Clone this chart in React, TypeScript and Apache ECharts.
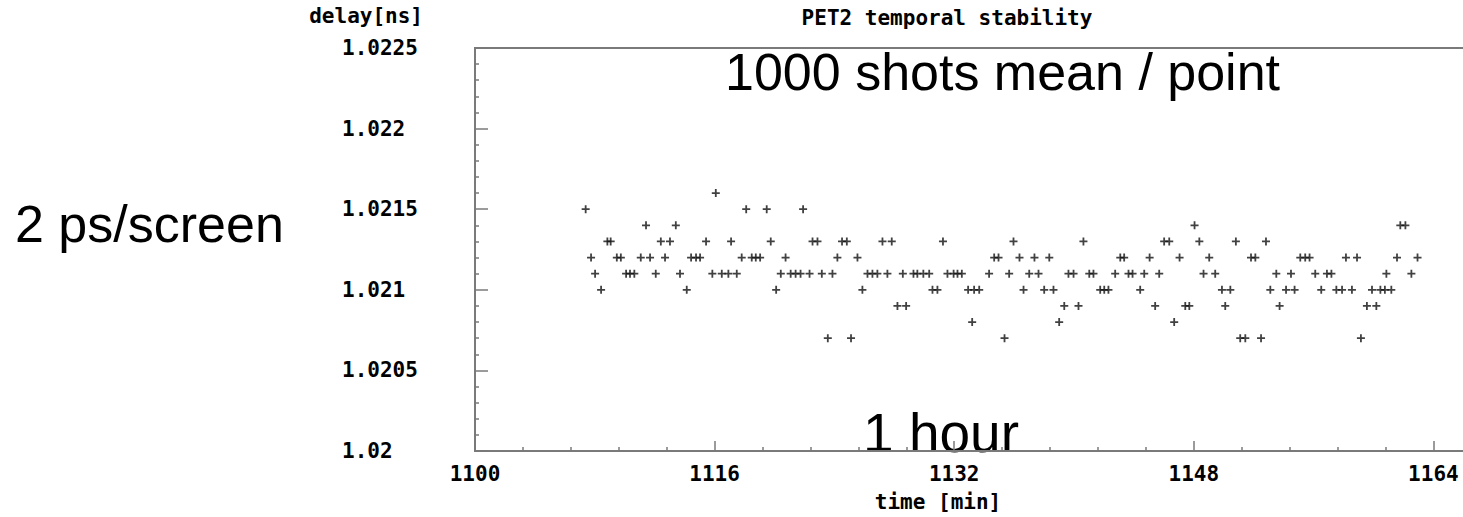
import React, { useEffect, useRef } from "react";
import * as echarts from "echarts";

// time of each point [min]
const timeMin: number[] = [
  1107.39, 1107.75, 1108.02, 1108.42, 1108.84, 1109.06, 1109.47, 1109.74, 1110.09, 1110.35,
  1110.64, 1111.07, 1111.42, 1111.69, 1112.07, 1112.41, 1112.69, 1113.02, 1113.41, 1113.69,
  1114.14, 1114.43, 1114.76, 1115.03, 1115.43, 1115.85, 1116.08, 1116.48, 1116.92, 1117.1,
  1117.48, 1117.81, 1118.11, 1118.48, 1118.75, 1119.04, 1119.48, 1119.75, 1120.11, 1120.42,
  1120.74, 1121.08, 1121.41, 1121.74, 1121.91, 1122.34, 1122.54, 1122.87, 1123.16, 1123.56,
  1123.87, 1124.2, 1124.51, 1124.83, 1125.11, 1125.54, 1125.87, 1126.21, 1126.54, 1126.87,
  1127.21, 1127.54, 1127.83, 1128.21, 1128.57, 1128.79, 1129.28, 1129.54, 1129.94, 1130.33,
  1130.55, 1130.88, 1131.25, 1131.55, 1131.96, 1132.22, 1132.51, 1132.93, 1133.2, 1133.33,
  1133.67, 1134.33, 1134.67, 1134.96, 1135.36, 1135.67, 1135.96, 1136.36, 1136.63, 1137.01,
  1137.36, 1137.63, 1138.01, 1138.35, 1138.63, 1139.01, 1139.35, 1139.63, 1139.97, 1140.3,
  1140.63, 1141.02, 1141.3, 1141.75, 1142.02, 1142.3, 1142.75, 1143.09, 1143.35, 1143.64,
  1143.91, 1144.42, 1144.69, 1145.05, 1145.42, 1145.69, 1146.02, 1146.36, 1146.69, 1147.05,
  1147.43, 1147.7, 1148.05, 1148.37, 1148.65, 1149.03, 1149.43, 1149.88, 1150.1, 1150.44,
  1150.81, 1151.1, 1151.44, 1151.82, 1152.11, 1152.49, 1152.82, 1153.11, 1153.51, 1153.73,
  1154.16, 1154.49, 1154.73, 1155.11, 1155.44, 1155.73, 1156.11, 1156.51, 1156.89, 1157.19,
  1157.52, 1157.9, 1158.16, 1158.56, 1158.9, 1159.16, 1159.56, 1159.9, 1160.19, 1160.46,
  1160.76, 1160.86, 1161.19, 1161.57, 1161.79, 1162.13, 1162.53, 1162.94,
];

// delay of each point [ns] (1000 shots mean / point)
const delayNs: number[] = [
  1.0215, 1.0212, 1.0211, 1.021, 1.0213, 1.0213, 1.0212, 1.0212, 1.0211, 1.0211,
  1.0211, 1.0212, 1.0214, 1.0212, 1.0211, 1.0213, 1.0212, 1.0213, 1.0214, 1.0211,
  1.021, 1.0212, 1.0212, 1.0212, 1.0213, 1.0211, 1.0216, 1.0211, 1.0211, 1.0213,
  1.0211, 1.0212, 1.0215, 1.0212, 1.0212, 1.0212, 1.0215, 1.0213, 1.021, 1.0211,
  1.0212, 1.0211, 1.0211, 1.0211, 1.0215, 1.0211, 1.0213, 1.0213, 1.0211, 1.0207,
  1.0211, 1.0212, 1.0213, 1.0213, 1.0207, 1.0212, 1.021, 1.0211, 1.0211, 1.0211,
  1.0213, 1.0211, 1.0213, 1.0209, 1.0211, 1.0209, 1.0211, 1.0211, 1.0211, 1.0211,
  1.021, 1.021, 1.0213, 1.0211, 1.0211, 1.0211, 1.0211, 1.021, 1.0208, 1.021,
  1.021, 1.0211, 1.0212, 1.0212, 1.0207, 1.0211, 1.0213, 1.0212, 1.021, 1.0211,
  1.0212, 1.0211, 1.021, 1.0212, 1.021, 1.0208, 1.0209, 1.0211, 1.0211, 1.0209,
  1.0213, 1.0211, 1.0211, 1.021, 1.021, 1.021, 1.0211, 1.0212, 1.0212, 1.0211,
  1.0211, 1.021, 1.0211, 1.0212, 1.0209, 1.0211, 1.0213, 1.0213, 1.0208, 1.0212,
  1.0209, 1.0209, 1.0214, 1.0213, 1.0211, 1.0212, 1.0211, 1.021, 1.0209, 1.021,
  1.0213, 1.0207, 1.0207, 1.0212, 1.0212, 1.0207, 1.0213, 1.021, 1.0211, 1.0209,
  1.021, 1.0211, 1.021, 1.0212, 1.0212, 1.0212, 1.0211, 1.021, 1.0211, 1.0211,
  1.021, 1.021, 1.0212, 1.021, 1.0212, 1.0207, 1.0209, 1.021, 1.0209, 1.021,
  1.021, 1.0211, 1.021, 1.0212, 1.0214, 1.0214, 1.0211, 1.0212,
];

const xMin = 1100;
const xMax = 1180;
const xStep = 16;
const yMin = 1.02;
const yMax = 1.0225;
const yStep = 0.0005;

const chartTitle = "PET2 temporal stability";
const xName = "time [min]";
const yName = "delay[ns]";
const noteTop = "1000 shots mean / point";
const noteLeft = "2 ps/screen";
const noteBottom = "1 hour";

const PLUS = "path://M3.1,0h1.8v3.1h3.1v1.8h-3.1v3.1h-1.8v-3.1h-3.1v-1.8h3.1z";
const MONO = '"DejaVu Sans Mono", "Liberation Mono", monospace';
const SANS = '"Liberation Sans", Arial, sans-serif';
const AXIS_GRAY = "#7a7a7a";

export default function App() {
  const ref = useRef<HTMLDivElement>(null);

  useEffect(() => {
    if (!ref.current) return;
    const chart = echarts.init(ref.current, undefined, { renderer: "svg" });
    const labelStyle = {
      fontFamily: MONO,
      fontWeight: "bold" as const,
      fontSize: 21,
      color: "#000",
    };
    chart.setOption({
      animation: false,
      backgroundColor: "#fff",
      title: {
        text: chartTitle,
        left: 942,
        top: 2,
        textAlign: "center",
        textStyle: { ...labelStyle },
      },
      grid: {
        left: 475,
        top: 48,
        bottom: 54,
        right: 0,
        show: true,
        borderColor: AXIS_GRAY,
        borderWidth: 2,
        backgroundColor: "transparent",
      },
      xAxis: {
        type: "value",
        min: xMin,
        max: xMax,
        interval: xStep,
        name: xName,
        nameLocation: "middle",
        nameGap: 40,
        nameTextStyle: { ...labelStyle, padding: [0, 272, 0, 0] },
        axisLine: { show: true, lineStyle: { color: AXIS_GRAY, width: 2 } },
        axisTick: { show: true, inside: true, length: 10, lineStyle: { color: AXIS_GRAY, width: 1.5 } },
        minorTick: { show: true, splitNumber: 5, length: 4, lineStyle: { color: AXIS_GRAY, width: 1.5 } },
        splitLine: { show: false },
        axisLabel: {
          ...labelStyle,
          margin: 12,
          showMaxLabel: false,
          formatter: (v: number) => (v >= xMax ? "" : String(v)),
        },
      },
      yAxis: {
        type: "value",
        min: yMin,
        max: yMax,
        interval: yStep,
        name: yName,
        nameLocation: "end",
        nameGap: 22,
        nameTextStyle: { ...labelStyle, align: "right", padding: [0, 52, 0, 0] },
        axisLine: { show: true, lineStyle: { color: AXIS_GRAY, width: 2 } },
        axisTick: { show: true, inside: true, length: 13, lineStyle: { color: AXIS_GRAY, width: 1.5 } },
        minorTick: { show: true, splitNumber: 5, length: 4, lineStyle: { color: AXIS_GRAY, width: 1.5 } },
        splitLine: { show: false },
        axisLabel: {
          ...labelStyle,
          align: "left",
          margin: 133,
          formatter: (v: number) => String(Number(v.toFixed(4))),
        },
      },
      graphic: [
        {
          type: "text",
          x: 725,
          y: 72,
          style: { text: noteTop, fontFamily: SANS, fontSize: 52, fill: "#000", textAlign: "left", textVerticalAlign: "middle" },
        },
        {
          type: "text",
          x: 15,
          y: 224,
          style: { text: noteLeft, fontFamily: SANS, fontSize: 52, fill: "#000", textAlign: "left", textVerticalAlign: "middle" },
        },
        {
          type: "text",
          x: 941,
          y: 433,
          style: { text: noteBottom, fontFamily: SANS, fontSize: 55, fill: "#000", textAlign: "center", textVerticalAlign: "middle" },
        },
      ],
      series: [
        {
          type: "scatter",
          data: timeMin.map((t, i) => [t, delayNs[i]]),
          symbol: PLUS,
          symbolSize: 8,
          itemStyle: { color: "#111" },
          silent: true,
        },
      ],
    });
    return () => chart.dispose();
  }, []);

  return (
    <div
      style={{ position: "absolute", left: 0, top: 0, width: 1463, height: 517, overflow: "hidden", background: "#fff" }}
    >
      <div ref={ref} style={{ width: 1673, height: 517 }} />
    </div>
  );
}
